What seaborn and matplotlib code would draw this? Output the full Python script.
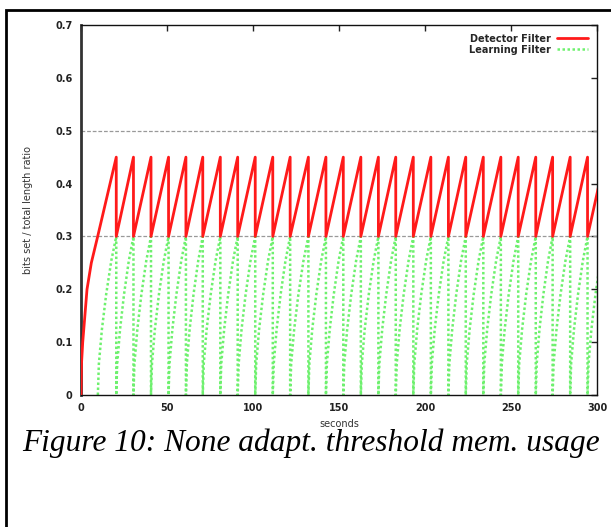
import numpy as np
import pandas as pd
import matplotlib
matplotlib.use("Agg")
import matplotlib.pyplot as plt
from matplotlib.patches import Rectangle
import seaborn as sns

# ---- data ----
reset_times = [9.8, 20.5, 30.5, 40.7, 50.9, 61.0, 70.8, 81.0, 91.1, 101.3,
               111.5, 121.6, 132.2, 142.4, 152.5, 162.7, 172.9, 183.0, 193.2,
               203.4, 213.6, 223.7, 233.9, 244.1, 254.2, 264.4, 274.2, 284.4,
               294.5]
last_period = 10.2

# learning filter shape within one cycle (fraction of cycle, value)
green_frac = [0.0, 0.055, 0.22, 0.45, 0.73, 1.0]
green_val = [0.0, 0.059, 0.124, 0.19, 0.254, 0.30]

# detector filter start-up curve
red_start_t = [0.0, 0.3, 1.0, 2.0, 3.5, 6.0, 9.7]
red_start_v = [0.0, 0.06, 0.10, 0.14, 0.20, 0.25, 0.30]
red_low = 0.30
red_high = 0.45

ref_lines = [0.3, 0.5]
x_ticks = [0, 50, 100, 150, 200, 250, 300]
y_ticks = [0, 0.1, 0.2, 0.3, 0.4, 0.5, 0.6, 0.7]
y_tick_labels = ["0", "0.1", "0.2", "0.3", "0.4", "0.5", "0.6", "0.7"]

# ---- build series ----
ends = reset_times[1:] + [reset_times[-1] + last_period]
gt, gv = [], []
for s, e in zip(reset_times, ends):
    for f, v in zip(green_frac, green_val):
        gt.append(s + f * (e - s))
        gv.append(v)
    gt.append(e)
    gv.append(0.0)

rt = list(red_start_t)
rv = list(red_start_v)
rt.append(reset_times[1]); rv.append(red_high)
for s, e in zip(reset_times[1:], ends[1:]):
    rt.append(s); rv.append(red_low)
    rt.append(e); rv.append(red_high)

df_red = pd.DataFrame({"t": rt, "v": rv, "series": "Detector Filter"})
df_green = pd.DataFrame({"t": gt, "v": gv, "series": "Learning Filter"})

# ---- plot ----
sns.set_theme(style="white")
plt.rcParams["font.family"] = ["DejaVu Sans"]

fig = plt.figure(figsize=(6.11, 5.27), dpi=100)
ax = fig.add_axes([81 / 611, 1 - 395 / 527, (597 - 81) / 611, (395 - 25) / 527])

for y in ref_lines:
    ax.axhline(y, color="#999999", lw=0.9, ls=(0, (3, 1.5)), zorder=1)

sns.lineplot(data=df_red, x="t", y="v", sort=False, estimator=None, ax=ax,
             color="#ff1a1a", lw=2.0, label="Detector Filter", zorder=3)
sns.lineplot(data=df_green, x="t", y="v", sort=False, estimator=None, ax=ax,
             color="#55ee55", lw=1.8, ls=(0, (1.0, 1.0)), alpha=0.85,
             label="Learning Filter", zorder=2)

ax.set_xlim(0, 300)
ax.set_ylim(0, 0.7)
ax.set_xticks(x_ticks)
ax.set_xticklabels([str(x) for x in x_ticks])
ax.set_yticks(y_ticks)
ax.set_yticklabels(y_tick_labels)
ax.tick_params(direction="in", length=4, width=1, top=True, right=True,
               labelsize=7, colors="#222222", pad=6)
for lab in ax.get_xticklabels() + ax.get_yticklabels():
    lab.set_fontweight("bold")
for sp in ax.spines.values():
    sp.set_color("#111111")
    sp.set_linewidth(1.0)
ax.spines["left"].set_linewidth(2.0)
ax.spines["left"].set_color("#333333")

ax.set_xlabel("seconds", fontsize=7, color="#333333", labelpad=4)
ax.set_ylabel("bits set / total length ratio", fontsize=7, color="#333333",
              labelpad=16)

leg = ax.legend(loc="upper right", frameon=False, fontsize=7, markerfirst=False,
                handlelength=3.2, handletextpad=0.6, labelspacing=0.1,
                borderaxespad=0.5)
for t in leg.get_texts():
    t.set_fontweight("bold")

fig.text(22 / 611, 1 - 451 / 527, "Figure 10: None adapt. threshold mem. usage",
         fontsize=22.6, style="italic", family="Liberation Serif", color="black",
         va="baseline")

fig.patches.append(Rectangle((6 / 611, -0.1), 1.2, 1 - 10 / 527 + 0.1,
                             transform=fig.transFigure, fill=False,
                             edgecolor="black", lw=2.0))

fig.savefig("out.png", dpi=100)
